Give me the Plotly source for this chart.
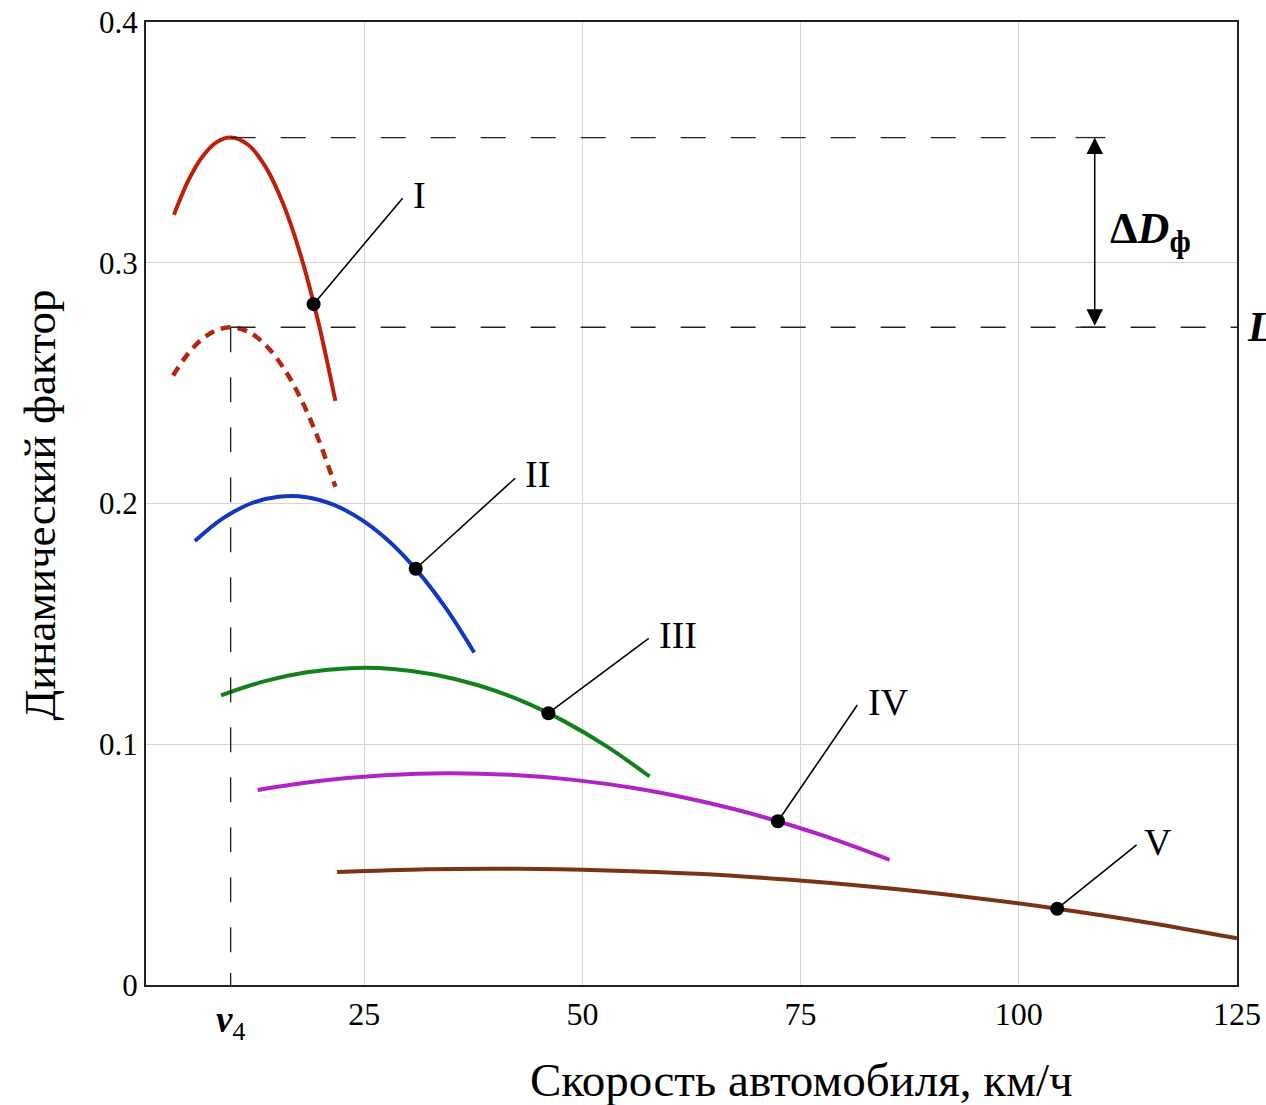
import plotly.graph_objects as go

# ---- data ----
v_I = [3.2, 4.9, 6.5, 8.1, 9.7, 11.7, 13.7, 15.7, 17.7, 19.7, 21.7]
D_I = [0.3199, 0.3345, 0.3442, 0.3501, 0.352, 0.349, 0.3398, 0.3246, 0.3034, 0.276, 0.2426]

v_Id = [3.1, 4.75, 6.4, 8.05, 9.7, 11.7, 13.7, 15.7, 17.7, 19.7, 21.7]
D_Id = [0.2532, 0.2619, 0.2682, 0.2719, 0.2732, 0.2714, 0.2658, 0.2566, 0.2438, 0.2272, 0.207]

v_II = [5.6, 8.8, 12.0, 15.2, 18.4, 21.6, 24.8, 28.0, 31.2, 34.4, 37.6]
D_II = [0.1844, 0.1938, 0.2, 0.2028, 0.2026, 0.1993, 0.193, 0.1838, 0.1715, 0.1563, 0.1381]

v_III = [8.6, 13.51, 18.42, 23.33, 28.24, 33.15, 38.06, 42.97, 47.88, 52.79, 57.7]
D_III = [0.1203, 0.1261, 0.1299, 0.1316, 0.1313, 0.1289, 0.1245, 0.1181, 0.1096, 0.0991, 0.0866]

v_IV = [12.8, 20.04, 27.28, 34.52, 41.76, 49.0, 56.24, 63.48, 70.72, 77.96, 85.2]
D_IV = [0.081, 0.0848, 0.0871, 0.088, 0.0873, 0.0852, 0.0816, 0.0764, 0.0698, 0.0616, 0.052]

v_V = [21.9, 32.21, 42.52, 52.83, 63.14, 73.45, 83.76, 94.07, 104.38, 114.69, 125.0]
D_V = [0.0469, 0.0481, 0.0483, 0.0476, 0.0462, 0.0438, 0.0406, 0.0366, 0.0317, 0.026, 0.0194]

# marked points on each gear curve
gear_labels = ["I", "II", "III", "IV", "V"]
pt_v = [19.2, 30.9, 46.1, 72.4, 104.4]
pt_D = [0.2828, 0.1729, 0.1129, 0.068, 0.0317]
# leader-line ends and label anchors
lead_v = [29.4, 42.3, 57.6, 81.5, 113.5]
lead_D = [0.3268, 0.2105, 0.144, 0.1163, 0.0582]
lab_v = [30.4, 43.2, 58.6, 82.5, 114.1]
lab_D = [0.328, 0.2123, 0.1454, 0.1175, 0.0594]

v4 = 9.7
D_max = 0.352
D_4 = 0.2732
arrow_v = 108.7

x_ticks = [25, 50, 75, 100, 125]
y_ticks = [0, 0.1, 0.2, 0.3, 0.4]
y_ticktext = ["0", "0.1", "0.2", "0.3", "0.4"]

FONT = "Liberation Serif"

fig = go.Figure()

def curve(x, y, color, dash=None, width=4):
    fig.add_trace(go.Scatter(x=x, y=y, mode="lines",
                             line=dict(color=color, width=width, shape="spline",
                                       smoothing=1.0, dash=dash),
                             hoverinfo="skip", showlegend=False))

curve(v_I, D_I, "#bf200a")
curve(v_Id, D_Id, "#b5260f", dash="10px,7px", width=4.5)
curve(v_II, D_II, "#1238c0")
curve(v_III, D_III, "#13801c")
curve(v_IV, D_IV, "#b024c6")
curve(v_V, D_V, "#7a3415")

shapes = []
# leader lines
for pv, pd, lv, ld in zip(pt_v, pt_D, lead_v, lead_D):
    shapes.append(dict(type="line", xref="x", yref="y", x0=pv, y0=pd, x1=lv, y1=ld,
                       line=dict(color="black", width=1.6), layer="above"))
# dashed reference lines
shapes.append(dict(type="line", xref="x", yref="y", x0=v4, y0=D_max, x1=arrow_v - 2.2, y1=D_max,
                   line=dict(color="#222", width=1.3, dash="25px,25px")))
shapes.append(dict(type="line", xref="x", yref="y", x0=v4, y0=D_4, x1=125, y1=D_4,
                   line=dict(color="#222", width=1.3, dash="25px,25px")))
shapes.append(dict(type="line", xref="x", yref="y", x0=v4, y0=D_4, x1=v4, y1=0.004,
                   line=dict(color="#222", width=1.3, dash="25px,25px")))
shapes.append(dict(type="line", xref="x", yref="y", x0=v4, y0=0, x1=v4, y1=0.005,
                   line=dict(color="#222", width=1.3)))
# arrow caps
for yy in (D_max, D_4):
    shapes.append(dict(type="line", xref="x", yref="y", x0=arrow_v - 2.2, y0=yy, x1=arrow_v + 1.2, y1=yy,
                       line=dict(color="#222", width=1.3)))

fig.add_trace(go.Scatter(x=pt_v, y=pt_D, mode="markers",
                         marker=dict(color="black", size=14),
                         hoverinfo="skip", showlegend=False))

annotations = []
for t, lv, ld in zip(gear_labels, lab_v, lab_D):
    annotations.append(dict(x=lv, y=ld, xref="x", yref="y", text=t, showarrow=False,
                            xanchor="left", yanchor="middle",
                            font=dict(family=FONT, size=38, color="black")))
# double arrow
annotations.append(dict(x=arrow_v, y=D_max, ax=arrow_v, ay=D_4, xref="x", yref="y",
                        axref="x", ayref="y", text="", showarrow=True,
                        arrowhead=2, arrowside="end+start", arrowsize=2.2, arrowwidth=1.5,
                        arrowcolor="black", standoff=0, startstandoff=0))
annotations.append(dict(x=110.2, y=0.313, xref="x", yref="y",
                        text="<b>Δ<i>D</i></b><sub><b>ф</b></sub>", showarrow=False,
                        xanchor="left", yanchor="middle",
                        font=dict(family=FONT, size=44, color="black")))
annotations.append(dict(x=1, y=D_4, xref="paper", yref="y", xshift=8,
                        text="<b><i>L</i></b>", showarrow=False,
                        xanchor="left", yanchor="middle",
                        font=dict(family=FONT, size=42, color="black")))
annotations.append(dict(x=v4, y=0, xref="x", yref="paper", yshift=-12,
                        text="<b><i>v</i></b><sub>4</sub>", showarrow=False,
                        xanchor="center", yanchor="top",
                        font=dict(family=FONT, size=37, color="black")))
# axis titles
annotations.append(dict(x=0.601, y=0, xref="paper", yref="paper", yshift=-95,
                        text="Скорость автомобиля, км/ч", showarrow=False,
                        xanchor="center", yanchor="middle",
                        font=dict(family=FONT, size=47, color="black")))
annotations.append(dict(x=0, y=0.498, xref="paper", yref="paper", xshift=-106,
                        text="Динамический фактор", showarrow=False, textangle=-90,
                        xanchor="center", yanchor="middle",
                        font=dict(family=FONT, size=45, color="black")))

fig.update_layout(
    width=1266, height=1105,
    margin=dict(l=146, r=29, t=22, b=120, autoexpand=False),
    paper_bgcolor="white", plot_bgcolor="white",
    shapes=shapes, annotations=annotations,
    font=dict(family=FONT, color="black"),
    showlegend=False,
)
fig.update_xaxes(range=[0, 125], tickvals=x_ticks, ticks="",
                 showgrid=True, gridcolor="#d4d4d4", gridwidth=1,
                 showline=True, linecolor="#222", linewidth=2, mirror=True,
                 zeroline=False, automargin=False,
                 tickfont=dict(family=FONT, size=32, color="black"))
fig.update_yaxes(range=[0, 0.4], tickvals=y_ticks, ticktext=y_ticktext, ticks="",
                 showgrid=True, gridcolor="#d4d4d4", gridwidth=1,
                 showline=True, linecolor="#222", linewidth=2, mirror=True,
                 zeroline=False, automargin=False,
                 tickfont=dict(family=FONT, size=31, color="black"))

fig.write_html("out.html")
